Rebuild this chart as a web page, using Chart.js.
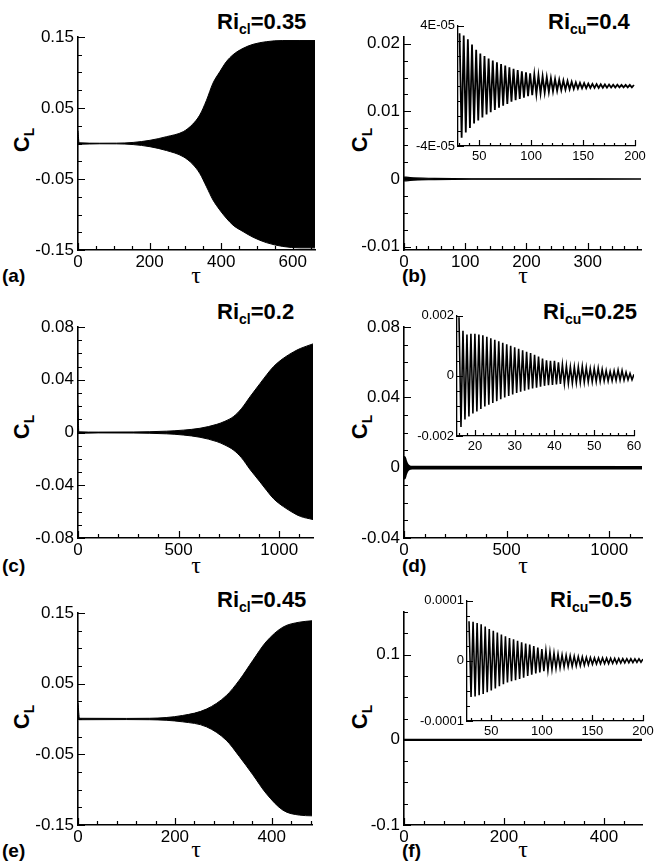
<!DOCTYPE html>
<html>
<head>
<meta charset="utf-8">
<title>C_L histories</title>
<script src="https://cdn.jsdelivr.net/npm/chart.js@4.4.1/dist/chart.umd.min.js"></script>
<style>
  html, body { margin: 0; padding: 0; background: #fff; }
  #fig { position: relative; width: 654px; height: 862px; overflow: hidden; font-family: 'Liberation Sans', Arial, Helvetica, sans-serif; color: #000; }
  #fig canvas { position: absolute; }
  .txt { position: absolute; white-space: nowrap; line-height: 1; }
  .ttl { font-weight: bold; font-size: 22px; }
  .ttl sub { font-size: 14px; vertical-align: -5px; line-height: 0; }
  .cl { font-weight: bold; font-size: 22px; transform: translate(-50%, -50%) rotate(-90deg); }
  .cl sub { font-size: 14px; vertical-align: -5px; line-height: 0; }
  .tau { font-family: 'Liberation Serif', 'DejaVu Serif', serif; font-size: 24px; transform: translate(-50%, -50%); }
  .pan { font-weight: bold; font-size: 19px; transform: translateY(-50%); }
</style>
</head>
<body>
<div id="fig">
  <div class="txt ttl" style="left:217px;top:11px">Ri<sub>cl</sub>=0.35</div>
  <div class="txt ttl" style="left:548px;top:11px">Ri<sub>cu</sub>=0.4</div>
  <div class="txt ttl" style="left:217px;top:301px">Ri<sub>cl</sub>=0.2</div>
  <div class="txt ttl" style="left:543px;top:301px">Ri<sub>cu</sub>=0.25</div>
  <div class="txt ttl" style="left:217px;top:589px">Ri<sub>cl</sub>=0.45</div>
  <div class="txt ttl" style="left:550px;top:589px">Ri<sub>cu</sub>=0.5</div>

  <div class="txt cl" style="left:22px;top:140px">C<sub>L</sub></div>
  <div class="txt cl" style="left:360px;top:140px">C<sub>L</sub></div>
  <div class="txt cl" style="left:22px;top:427px">C<sub>L</sub></div>
  <div class="txt cl" style="left:360px;top:427px">C<sub>L</sub></div>
  <div class="txt cl" style="left:22px;top:717px">C<sub>L</sub></div>
  <div class="txt cl" style="left:360px;top:717px">C<sub>L</sub></div>

  <div class="txt tau" style="left:196px;top:275px">τ</div>
  <div class="txt tau" style="left:523px;top:275px">τ</div>
  <div class="txt tau" style="left:196px;top:565px">τ</div>
  <div class="txt tau" style="left:523px;top:565px">τ</div>
  <div class="txt tau" style="left:196px;top:849px">τ</div>
  <div class="txt tau" style="left:523px;top:849px">τ</div>

  <div class="txt pan" style="left:2px;top:275px">(a)</div>
  <div class="txt pan" style="left:402px;top:275px">(b)</div>
  <div class="txt pan" style="left:2px;top:565px">(c)</div>
  <div class="txt pan" style="left:402px;top:565px">(d)</div>
  <div class="txt pan" style="left:2px;top:850px">(e)</div>
  <div class="txt pan" style="left:402px;top:850px">(f)</div>
</div>
<script>
// ====== C_L time histories, six panels + three insets ======

// ---------- Data: envelopes of the lift coefficient ----------
// (a) Ri_cl = 0.35
const aTau = [0, 3, 60, 108, 154, 201, 247, 294, 320, 340, 359, 377, 396, 414, 433, 461, 489, 526, 572, 620, 662];
const aUp  = [0.018, 0.001, 0.0004, 0.0005, 0.0015, 0.0045, 0.0096, 0.0167, 0.027, 0.040, 0.061, 0.085, 0.101, 0.115, 0.125, 0.134, 0.1397, 0.1434, 0.145, 0.145, 0.145];
const aLo  = [0, -0.001, -0.0004, -0.0005, -0.0015, -0.0045, -0.0099, -0.0186, -0.029, -0.042, -0.061, -0.0795, -0.0936, -0.105, -0.115, -0.124, -0.132, -0.1396, -0.145, -0.147, -0.147];

// (b) Ri_cu = 0.4
const bTau = [0, 10, 50, 110, 387];
const bUp  = [0.0003, 0.0002, 0.0001, 0.00004, 0];
const bLo  = [-0.0003, -0.0002, -0.0001, -0.00004, 0];

// (c) Ri_cl = 0.2
const cTau = [0, 4, 100, 274, 440, 523, 606, 690, 730, 772, 812, 855, 905, 939, 972, 1021, 1071, 1105, 1168];
const cUp  = [0.021, 0.0005, 0.0003, 0.0004, 0.001, 0.0018, 0.0032, 0.0062, 0.0085, 0.012, 0.018, 0.0271, 0.0372, 0.0440, 0.0500, 0.0563, 0.0611, 0.0637, 0.0672];
const cLo  = [0, -0.0005, -0.0003, -0.0004, -0.001, -0.0019, -0.0036, -0.0069, -0.0095, -0.0132, -0.019, -0.0280, -0.0375, -0.0442, -0.0502, -0.0562, -0.061, -0.0636, -0.066];

// (d) Ri_cu = 0.25
const dTau = [0, 3, 8, 15, 25, 40, 1160];
const dUp  = [0.0057, 0.006, 0.004, 0.002, 0.0008, 0.0004, 0.0003];
const dLo  = [-0.0057, -0.006, -0.004, -0.002, -0.0008, -0.0004, -0.0003];

// (e) Ri_cl = 0.45
const eTau = [0, 3, 100, 148, 216, 265, 306, 333, 361, 388, 423, 457, 483];
const eUp  = [0.023, 0.001, 0.0008, 0.001, 0.005, 0.014, 0.033, 0.055, 0.083, 0.109, 0.130, 0.137, 0.139];
const eLo  = [0, -0.001, -0.0008, -0.001, -0.004, -0.011, -0.030, -0.053, -0.079, -0.105, -0.129, -0.136, -0.137];

// (f) Ri_cu = 0.5
const fTau = [0, 476];
const fCl  = [0, 0];

// ---------- Insets: peaks and troughs of the decaying oscillation ----------
// inset (b), values x 1e-5
const bInUnit = 1e-5;
const bInPeakTau = [31,35,39,43,47,51,55,59,63,67,71,75,79,83,87,91,95,99,103,107,111,115,119,123,127,131,135,139,143,147,151,155,159,163,167,171,175,179,183,187,191,195,199];
const bInPeak    = [3.5,3.35,3.1,2.75,2.4,2.15,1.98,1.82,1.68,1.57,1.46,1.35,1.24,1.13,1.05,0.97,0.9,0.84,0.77,0.71,0.64,0.58,0.52,0.46,0.41,0.36,0.32,0.27,0.23,0.2,0.18,0.15,0.13,0.12,0.11,0.1,0.09,0.08,0.08,0.07,0.07,0.07,0.06];
const bInTroughTau = [33,37,41,45,49,53,57,61,65,69,73,77,81,85,89,93,97,101,105,109,113,117,121,125,129,133,137,141,145,149,153,157,161,165,169,173,177,181,185,189,193,197];
const bInTrough    = [-3.45,-3.1,-2.8,-2.5,-2.3,-2.1,-1.9,-1.75,-1.6,-1.45,-1.32,-1.2,-1.05,-0.95,-0.87,-0.78,-0.68,-0.62,-0.56,-0.5,-0.45,-0.4,-0.36,-0.32,-0.28,-0.25,-0.22,-0.2,-0.18,-0.16,-0.15,-0.14,-0.13,-0.13,-0.12,-0.12,-0.11,-0.11,-0.1,-0.1,-0.1,-0.1];

// inset (d), values x 1e-3
const dInUnit = 1e-3;
const dInPeakTau = [16,17,18,19,20,21,22,23,24,25,26,27,28,29,30,31,32,33,34,35,36,37,38,39,40,41,42,43,44,45,46,47,48,49,50,51,52,53,54,55,56,57,58,59,60];
const dInPeak    = [1.95,1.5,1.38,1.4,1.4,1.38,1.35,1.3,1.25,1.2,1.15,1.1,1.05,1.0,0.95,0.9,0.85,0.8,0.76,0.7,0.64,0.58,0.52,0.5,0.5,0.45,0.38,0.33,0.3,0.3,0.3,0.32,0.28,0.24,0.25,0.26,0.22,0.18,0.15,0.17,0.2,0.18,0.12,0.08,0.05];
const dInTroughTau = [16.5,17.5,18.5,19.5,20.5,21.5,22.5,23.5,24.5,25.5,26.5,27.5,28.5,29.5,30.5,31.5,32.5,33.5,34.5,35.5,36.5,37.5,38.5,39.5,40.5,41.5,42.5,43.5,44.5,45.5,46.5,47.5,48.5,49.5,50.5,51.5,52.5,53.5,54.5,55.5,56.5,57.5,58.5,59.5];
const dInTrough    = [-1.7,-1.45,-1.35,-1.25,-1.18,-1.1,-1.02,-0.96,-0.9,-0.84,-0.78,-0.72,-0.67,-0.62,-0.57,-0.53,-0.49,-0.45,-0.42,-0.39,-0.36,-0.33,-0.31,-0.3,-0.28,-0.27,-0.26,-0.25,-0.24,-0.23,-0.22,-0.21,-0.2,-0.2,-0.19,-0.18,-0.17,-0.17,-0.16,-0.15,-0.14,-0.14,-0.13,-0.13];

// inset (f), values x 1e-5
const fInUnit = 1e-5;
const fInPeakTau = [28,32,36,40,44,48,52,56,60,64,68,72,76,80,84,88,92,96,100,104,108,112,116,120,124,128,132,136,140,144,148,152,156,160,164,168,172,176,180,184,188,192,196,200];
const fInPeak    = [6.6,6.5,6.3,6.1,5.7,5.3,5.0,4.7,4.4,4.1,3.8,3.6,3.35,3.1,2.9,2.7,2.45,2.2,1.95,1.7,1.5,1.3,1.15,1.0,0.92,0.85,0.78,0.7,0.65,0.6,0.55,0.5,0.5,0.48,0.46,0.45,0.42,0.4,0.38,0.36,0.35,0.34,0.33,0.3];
const fInTroughTau = [30,34,38,42,46,50,54,58,62,66,70,74,78,82,86,90,94,98,102,106,110,114,118,122,126,130,134,138,142,146,150,154,158,162,166,170,174,178,182,186,190,194,198];
const fInTrough    = [-6.0,-5.9,-5.7,-5.5,-5.2,-4.9,-4.6,-4.2,-3.9,-3.6,-3.4,-3.2,-3.0,-2.8,-2.5,-2.3,-2.1,-1.9,-1.7,-1.55,-1.4,-1.25,-1.12,-1.02,-0.95,-0.9,-0.85,-0.8,-0.72,-0.65,-0.55,-0.5,-0.48,-0.46,-0.45,-0.42,-0.4,-0.37,-0.34,-0.3,-0.28,-0.25,-0.23];

// ---------- Tick values and labels ----------
const aXTicks = [0, 200, 400, 600];
const aYTicks = [-0.15, -0.05, 0.05, 0.15];
const aYLabels = ['-0.15', '-0.05', '0.05', '0.15'];
const bXTicks = [0, 100, 200, 300];
const bYTicks = [-0.01, 0, 0.01, 0.02];
const bYLabels = ['-0.01', '0', '0.01', '0.02'];
const cXTicks = [0, 500, 1000];
const cYTicks = [-0.08, -0.04, 0, 0.04, 0.08];
const cYLabels = ['-0.08', '-0.04', '0', '0.04', '0.08'];
const dXTicks = [0, 500, 1000];
const dYTicks = [-0.04, 0, 0.04, 0.08];
const dYLabels = ['-0.04', '0', '0.04', '0.08'];
const eXTicks = [0, 200, 400];
const eYTicks = [-0.15, -0.05, 0.05, 0.15];
const eYLabels = ['-0.15', '-0.05', '0.05', '0.15'];
const fXTicks = [0, 200, 400];
const fYTicks = [-0.1, 0, 0.1];
const fYLabels = ['-0.1', '0', '0.1'];

const bInXTicks = [50, 100, 150, 200];
const bInYTicks = [-4e-5, 4e-5];
const bInYLabels = ['-4E-05', '4E-05'];
const dInXTicks = [20, 30, 40, 50, 60];
const dInYTicks = [-0.002, 0, 0.002];
const dInYLabels = ['-0.002', '0', '0.002'];
const fInXTicks = [50, 100, 150, 200];
const fInYTicks = [-0.0001, 0, 0.0001];
const fInYLabels = ['-0.0001', '0', '0.0001'];

// ---------- Helpers ----------
const fig = document.getElementById('fig');
const FONT = "'Liberation Sans', Arial, Helvetica, sans-serif";

function pts(tau, val, unit){ return tau.map((t, i) => ({ x: t, y: val[i] * (unit || 1) })); }
function merged(t1, v1, t2, v2, unit){
  return pts(t1, v1, unit).concat(pts(t2, v2, unit)).sort((p, q) => p.x - q.x);
}
function minorList(min, max, step){
  const out = [];
  const n0 = Math.ceil(min / step - 1e-9), n1 = Math.floor(max / step + 1e-9);
  for(let n = n0; n <= n1; n++) out.push(n * step);
  return out;
}
function env(tau, up, lo, bw){
  const base = { borderColor: '#000', backgroundColor: '#000', borderWidth: bw, pointRadius: 0, cubicInterpolationMode: 'monotone' };
  return [
    Object.assign({ data: pts(tau, up), fill: '+1' }, base),
    Object.assign({ data: pts(tau, lo), fill: false }, base)
  ];
}
function osc(data, bw){
  return [{ data, borderColor: '#000', borderWidth: bw, pointRadius: 0, fill: false, tension: 0 }];
}

// inward tick marks, placed through the chart's own scales
const inTicks = {
  id: 'inTicks',
  afterDraw(chart){
    const o = chart.config.options.tickMarks;
    if(!o) return;
    const { ctx, chartArea: a } = chart;
    const x = chart.scales.x, y = chart.scales.y;
    ctx.save();
    ctx.strokeStyle = '#000';
    ctx.lineWidth = o.width;
    ctx.beginPath();
    const xt = (v, len) => { const p = Math.round(x.getPixelForValue(v)) + 0.5; ctx.moveTo(p, a.bottom); ctx.lineTo(p, a.bottom - len); };
    const yt = (v, len) => { const p = Math.round(y.getPixelForValue(v)) + 0.5; ctx.moveTo(a.left, p); ctx.lineTo(a.left + len, p); };
    o.xMajor.forEach(v => xt(v, o.major));
    o.yMajor.forEach(v => yt(v, o.major));
    o.xMinor.forEach(v => xt(v, o.minor));
    o.yMinor.forEach(v => yt(v, o.minor));
    ctx.stroke();
    ctx.restore();
  }
};

function panel(p){
  const c = document.createElement('canvas');
  const w = (p.r - p.l) + p.yw + p.pr, h = (p.b - p.t) + p.pt + p.xh;
  c.width = w; c.height = h;
  c.style.left = (p.l - p.yw) + 'px';
  c.style.top = (p.t - p.pt) + 'px';
  c.style.width = w + 'px'; c.style.height = h + 'px';
  fig.appendChild(c);
  const font = { family: FONT, size: p.fs };
  return new Chart(c, {
    type: 'line',
    data: { datasets: p.datasets },
    options: {
      responsive: false, animation: false, events: [],
      layout: { padding: { top: p.pt, right: p.pr, left: 0, bottom: 0 } },
      tickMarks: {
        xMajor: p.xTicks, yMajor: p.yTicks,
        xMinor: minorList(p.xMin, p.xMax, p.xStep), yMinor: minorList(p.yMin, p.yMax, p.yStep),
        major: p.tk, minor: Math.round(p.tk * 0.55), width: 1.2
      },
      plugins: { legend: { display: false }, tooltip: { enabled: false } },
      scales: {
        x: {
          type: 'linear', min: p.xMin, max: p.xMax,
          afterBuildTicks: s => { s.ticks = p.xTicks.map(v => ({ value: v })); },
          afterFit: s => { s.height = p.xh; },
          grid: { display: false, drawTicks: false },
          border: { display: true, color: '#000', width: p.bw },
          ticks: { font, color: '#000', padding: p.xpad, autoSkip: false, maxRotation: 0, callback: (v, i) => String(p.xTicks[i]) }
        },
        y: {
          type: 'linear', min: p.yMin, max: p.yMax,
          afterBuildTicks: s => { s.ticks = p.yTicks.map(v => ({ value: v })); },
          afterFit: s => { s.width = p.yw; },
          grid: { display: false, drawTicks: false },
          border: { display: true, color: '#000', width: p.bw },
          ticks: { font, color: '#000', padding: p.ypad, autoSkip: false, callback: (v, i) => p.yLabels[i] }
        }
      }
    },
    plugins: [inTicks]
  });
}

const MAIN = { yw: 70, xh: 40, pt: 18, pr: 16, fs: 17, tk: 7, bw: 1.6, xpad: 2, ypad: 4 };
const INSET = { yw: 56, xh: 24, pt: 10, pr: 18, fs: 13, tk: 6, bw: 1.3, xpad: 3, ypad: 3 };

// ---------- Main panels ----------
panel(Object.assign({}, MAIN, { l: 78, t: 37, r: 315, b: 250, xMin: 0, xMax: 662, xStep: 50, yMin: -0.15, yMax: 0.15, yStep: 0.025,
  xTicks: aXTicks, yTicks: aYTicks, yLabels: aYLabels, datasets: env(aTau, aUp, aLo, 1) }));
panel(Object.assign({}, MAIN, { l: 404, t: 37, r: 641, b: 250, xMin: 0, xMax: 387, xStep: 20, yMin: -0.0105, yMax: 0.021, yStep: 0.0025,
  xTicks: bXTicks, yTicks: bYTicks, yLabels: bYLabels, datasets: env(bTau, bUp, bLo, 1.2) }));
panel(Object.assign({}, MAIN, { l: 78, t: 327, r: 313, b: 538, xMin: 0, xMax: 1168, xStep: 100, yMin: -0.08, yMax: 0.08, yStep: 0.01,
  xTicks: cXTicks, yTicks: cYTicks, yLabels: cYLabels, datasets: env(cTau, cUp, cLo, 1) }));
panel(Object.assign({}, MAIN, { l: 404, t: 327, r: 642, b: 538, xMin: 0, xMax: 1160, xStep: 100, yMin: -0.04, yMax: 0.08, yStep: 0.01,
  xTicks: dXTicks, yTicks: dYTicks, yLabels: dYLabels, datasets: env(dTau, dUp, dLo, 2.4) }));
panel(Object.assign({}, MAIN, { l: 78, t: 613, r: 312, b: 825, xMin: 0, xMax: 483, xStep: 40, yMin: -0.15, yMax: 0.15, yStep: 0.025,
  xTicks: eXTicks, yTicks: eYTicks, yLabels: eYLabels, datasets: env(eTau, eUp, eLo, 1) }));
panel(Object.assign({}, MAIN, { l: 404, t: 612, r: 642, b: 825, xMin: 0, xMax: 476, xStep: 40, yMin: -0.1, yMax: 0.15, yStep: 0.025,
  xTicks: fXTicks, yTicks: fYTicks, yLabels: fYLabels, datasets: osc(pts(fTau, fCl), 2.2) }));

// ---------- Insets ----------
panel(Object.assign({}, INSET, { l: 458, t: 25, r: 635, b: 146, xMin: 29.5, xMax: 200, xStep: 10, yMin: -4e-5, yMax: 4e-5, yStep: 1e-5,
  xTicks: bInXTicks, yTicks: bInYTicks, yLabels: bInYLabels,
  datasets: osc(merged(bInPeakTau, bInPeak, bInTroughTau, bInTrough, bInUnit), 1.8) }));
panel(Object.assign({}, INSET, { l: 457, t: 315, r: 634, b: 436, xMin: 15.5, xMax: 60, xStep: 2, yMin: -0.002, yMax: 0.002, yStep: 0.0005,
  xTicks: dInXTicks, yTicks: dInYTicks, yLabels: dInYLabels,
  datasets: osc(merged(dInPeakTau, dInPeak, dInTroughTau, dInTrough, dInUnit), 1.6) }));
panel(Object.assign({}, INSET, { l: 467, t: 600, r: 643, b: 721, xMin: 26, xMax: 200, xStep: 10, yMin: -1e-4, yMax: 1e-4, yStep: 2.5e-5,
  xTicks: fInXTicks, yTicks: fInYTicks, yLabels: fInYLabels,
  datasets: osc(merged(fInPeakTau, fInPeak, fInTroughTau, fInTrough, fInUnit), 1.6) }));
</script>
</body>
</html>
